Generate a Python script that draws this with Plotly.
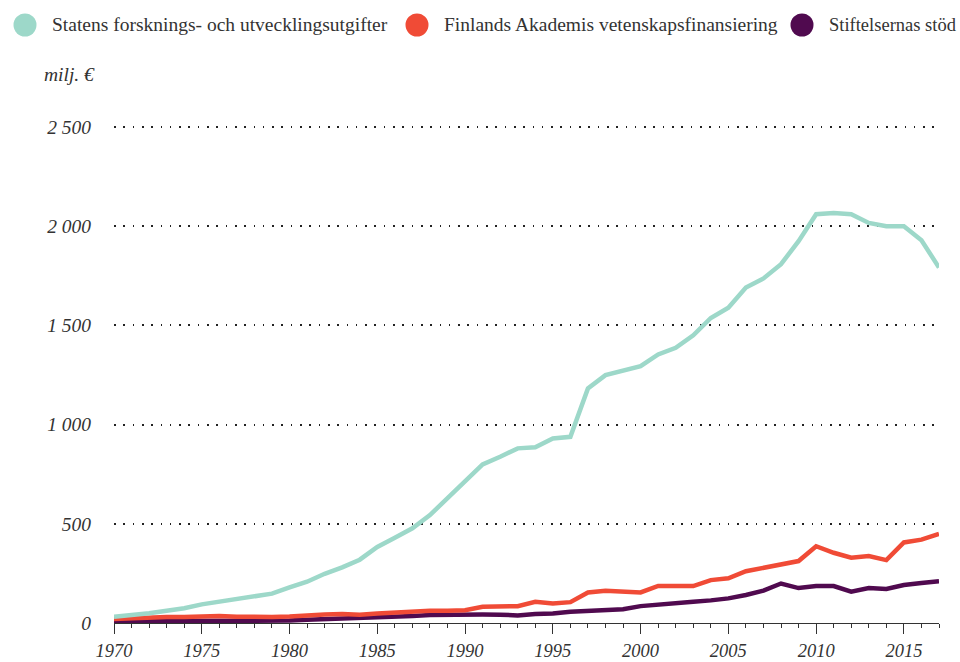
import plotly.graph_objects as go

years = list(range(1970, 2018))

statens = [32, 40, 49, 62, 74, 94, 107, 121, 131, 148,
           179, 208, 248, 280, 319, 383, 430, 477, 544, 631,
           711, 799, 838, 880, 885, 930, 938, 1182, 1249, 1274,
           1294, 1353, 1387, 1450, 1537, 1589, 1690, 1736, 1808, 1924,
           2060, 2066, 2060, 2016, 1999, 1999, 1929, 1791]

akademi = [20, 24, 28, 30, 30, 33, 35, 32, 30, 30,
           33, 39, 43, 45, 42, 48, 54, 58, 62, 62,
           64, 82, 84, 85, 107, 98, 105, 154, 163, 158,
           154, 187, 186, 186, 216, 225, 261, 278, 300, 312,
           387, 354, 329, 337, 317, 406, 420, 449]

stiftelser = [10, 10, 11, 11, 11, 12, 12, 10, 9, 9,
              12, 16, 19, 21, 22, 25, 30, 35, 40, 42,
              44, 43, 42, 38, 45, 48, 57, 60, 65, 69,
              85, 94, 102, 107, 114, 124, 141, 163, 199, 176,
              186, 186, 158, 176, 171, 191, 201, 210]

series_names = ["Statens forsknings- och utvecklingsutgifter",
                "Finlands Akademis vetenskapsfinansiering",
                "Stiftelsernas stöd"]
colors = ["#9dd8c9", "#f04b36", "#500a4f"]

y_tickvals = [0, 500, 1000, 1500, 2000, 2500]
x_tickvals = [1970, 1975, 1980, 1985, 1990, 1995, 2000, 2005, 2010, 2015]

FONT = "Liberation Serif"
TXT = "#333333"
FS = 19.5

fig = go.Figure()
for vals, name, col in [(stiftelser, series_names[2], colors[2]),
                        (akademi, series_names[1], colors[1]),
                        (statens, series_names[0], colors[0])]:
    fig.add_trace(go.Scatter(x=years, y=vals, mode="lines", name=name,
                             line=dict(color=col, width=4.5),
                             showlegend=False, hoverinfo="skip"))

W, H = 960, 662
L, R, T, B = 114, 21, 107, 39
pw, ph = W - L - R, H - T - B

def px(x):
    return (x - L) / pw

def py(y):
    return (H - B - y) / ph

# manual legend (large circle markers)
legend_items = [(25, 50, FS), (417, 442, FS), (802, 827, 18.5)]
shapes = []
annotations = []
for (cx, tx, fs), name, col in zip(legend_items, series_names, colors):
    r = 11.5
    shapes.append(dict(type="circle", xref="paper", yref="paper",
                       x0=px(cx - r), x1=px(cx + r), y0=py(25 + r), y1=py(25 - r),
                       fillcolor=col, line=dict(width=0)))
    annotations.append(dict(text=name, xref="paper", yref="paper",
                            x=px(tx), y=py(25), xanchor="left", yanchor="middle",
                            showarrow=False,
                            font=dict(family=FONT, size=fs, color=TXT)))

annotations.append(dict(text="milj. €", xref="paper", yref="paper",
                        x=px(42), y=py(75), xanchor="left", yanchor="middle",
                        showarrow=False,
                        font=dict(family=FONT, size=FS, color=TXT, style="italic")))

fig.update_layout(
    width=W, height=H,
    margin=dict(l=L, r=R, t=T, b=B, pad=0, autoexpand=False),
    paper_bgcolor="white", plot_bgcolor="white",
    separators=", ",
    shapes=shapes, annotations=annotations,
    showlegend=False,
    xaxis=dict(range=[1970, 2017], tickvals=x_tickvals, automargin=False,
               ticks="outside", ticklen=10, tickwidth=1, tickcolor="#333333",
               showline=True, linecolor="#333333", linewidth=1,
               showgrid=False, zeroline=False,
               minor=dict(dtick=1, tick0=1970, ticks="outside", ticklen=4,
                          tickwidth=1, tickcolor="#333333", showgrid=False),
               tickfont=dict(family=FONT, size=18.5, color=TXT, style="italic"),
               ticklabelstandoff=1),
    yaxis=dict(range=[0, 2600], tickvals=y_tickvals, tickformat=",d",
               automargin=False,
               ticks="", showline=False, zeroline=False,
               showgrid=True, gridcolor="#222222", gridwidth=1.6,
               griddash="1.6px,7.7px",
               tickfont=dict(family=FONT, size=FS, color=TXT, style="italic"),
               ticklabelstandoff=22),
)

fig.write_html("out.html", config={"displayModeBar": False},
               post_script="document.body.style.margin='0px';")
